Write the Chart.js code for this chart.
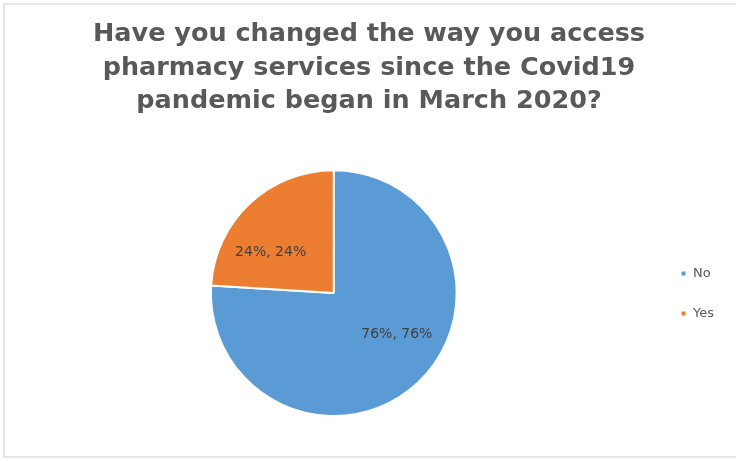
<!DOCTYPE html>
<html>
<head>
<meta charset="utf-8">
<script src="https://cdn.jsdelivr.net/npm/chart.js@4.4.0/dist/chart.umd.min.js"></script>
<style>
  html, body { margin: 0; padding: 0; background: #fff; }
  #frame {
    position: absolute; left: 3px; top: 3px; width: 733px; height: 455px;
    border-left: 2px solid #e6e6e6; border-top: 2px solid #e6e6e6; border-bottom: 2px solid #e6e6e6;
    box-sizing: border-box;
  }
  #wrap { position: absolute; left: 0; top: 0; width: 736px; height: 461px; }
</style>
</head>
<body>
<div id="frame"></div>
<div id="wrap"><canvas id="pieChart"></canvas></div>
<script>
// 차트 데이터
const categories = ['No', 'Yes'];
const shares = [76, 24];
const sliceColors = ['#5b9bd5', '#ed7d31'];
const titleLines = [
  'Have you changed the way you access',
  'pharmacy services since the Covid19',
  'pandemic began in March 2020?'
];

// 조각 위에 "76%, 76%" 라벨 그리기
const sliceLabels = {
  id: 'sliceLabels',
  afterDatasetsDraw(chart) {
    const { ctx } = chart;
    const meta = chart.getDatasetMeta(0);
    ctx.save();
    ctx.font = '14px "DejaVu Sans", sans-serif';
    ctx.fillStyle = '#404040';
    ctx.textAlign = 'center';
    ctx.textBaseline = 'middle';
    meta.data.forEach((arc, i) => {
      const p = arc.getProps(['x', 'y', 'startAngle', 'endAngle', 'outerRadius']);
      const mid = (p.startAngle + p.endAngle) / 2;
      const x = p.x + Math.cos(mid) * p.outerRadius * 0.75;
      const y = p.y + Math.sin(mid) * p.outerRadius * 0.46;
      const v = shares[i] + '%';
      ctx.fillText(v + ', ' + v, x, y);
    });
    ctx.restore();
  }
};

const ctx = document.getElementById('pieChart').getContext('2d');
const chart = new Chart(ctx, {
  type: 'pie',
  data: {
    labels: categories,
    datasets: [{
      data: shares,
      backgroundColor: sliceColors,
      borderColor: '#ffffff',
      borderWidth: 2,
    }],
  },
  options: {
    responsive: true,
    maintainAspectRatio: false,
    animation: false,
    layout: { padding: { top: 18, bottom: 44, left: 14, right: 12 } },
    plugins: {
      title: {
        display: true,
        text: titleLines,
        color: '#595959',
        font: { family: '"DejaVu Sans", sans-serif', size: 25.5, weight: 'bold', lineHeight: 1.31 },
        padding: { top: 0, bottom: 51 },
      },
      legend: {
        position: 'right',
        title: { display: true, text: '', font: { size: 10 }, padding: { top: 140, bottom: 0 } },
        labels: {
          boxWidth: 6,
          boxHeight: 6,
          padding: 27,
          color: '#595959',
          font: { family: '"DejaVu Sans", sans-serif', size: 13 },
        },
      },
      tooltip: { enabled: false },
    },
  },
  plugins: [sliceLabels],
});
</script>
</body>
</html>
